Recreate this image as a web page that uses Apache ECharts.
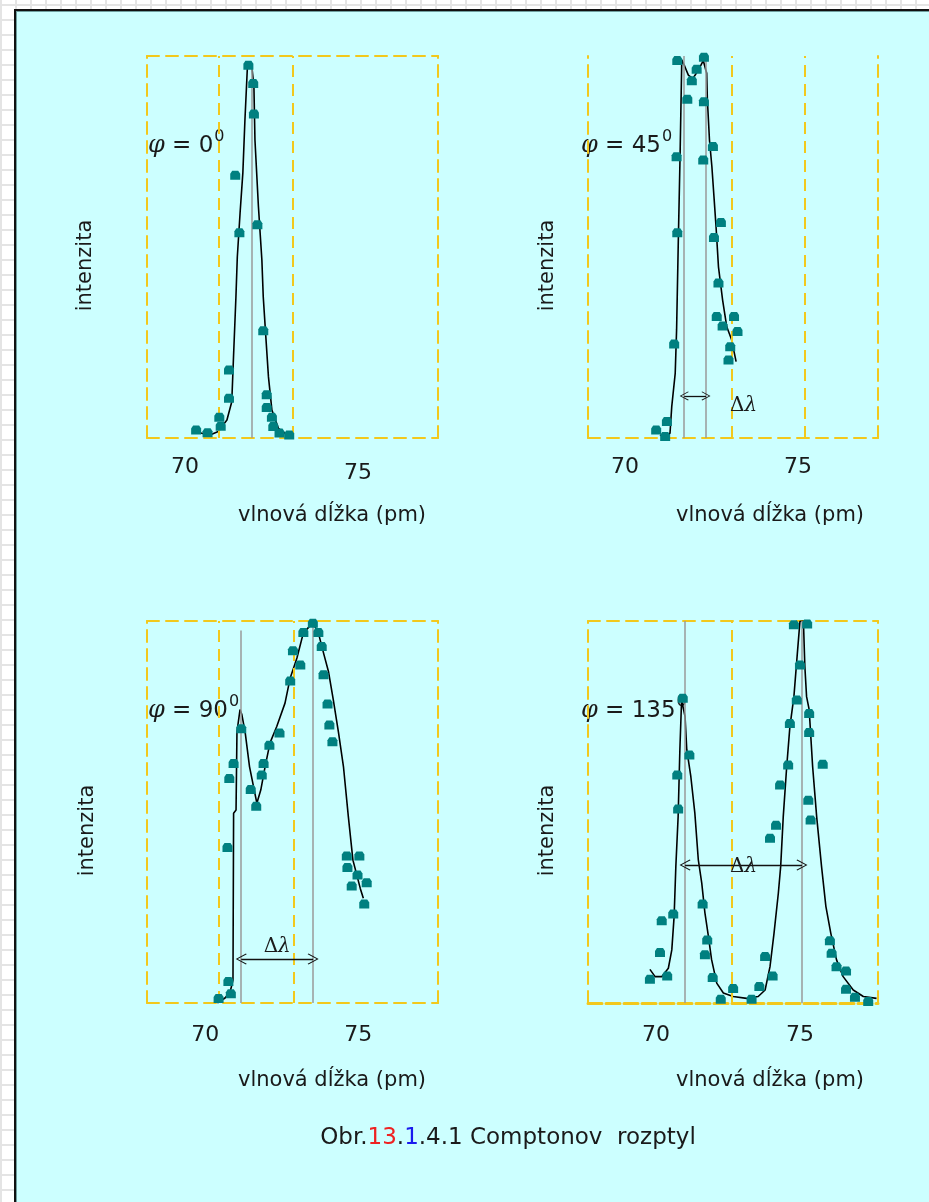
<!DOCTYPE html>
<html><head><meta charset="utf-8">
<script src="https://cdn.jsdelivr.net/npm/echarts@6/dist/echarts.min.js"></script>
<style>
html,body{margin:0;padding:0;width:929px;height:1202px;overflow:hidden;background-color:#fff;
background-image:linear-gradient(#e4e4e4 2px,transparent 2px),linear-gradient(90deg,#e4e4e4 2px,transparent 2px);
background-size:15px 15px;background-position:0 4px;}
#frame{position:absolute;left:14px;top:9px;width:960px;height:1240px;background:#ccffff;border-left:2px solid #111;border-top:2px solid #111;box-shadow:inset 1px 1px 0 #6f9f9f;}
#chart{position:absolute;left:0;top:0;width:929px;height:1202px;}
</style></head>
<body><div id="frame"></div><div id="chart"></div>
<script>
// ---------- data ----------
const tickLabels = [70, 75];
const angleLabels = ['0', '45', '90', '135'];

// φ = 0°  (wavelength pm, relative intensity)
const p0Points = [[70.32,0.021],[70.65,0.014],[70.99,0.054],[71.03,0.031],[71.27,0.178],[71.27,0.104],[71.45,0.688],[71.57,0.537],[71.83,0.976],[71.97,0.928],[71.99,0.848],[72.09,0.558],[72.26,0.281],[72.36,0.113],[72.36,0.080],[72.51,0.054],[72.55,0.030],[72.73,0.013],[73.01,0.008]];
const p0Curve = [[70.45,0.013],[70.72,0.008],[70.96,0.017],[71.21,0.047],[71.35,0.095],[71.40,0.212],[71.47,0.369],[71.51,0.474],[71.59,0.589],[71.67,0.694],[71.73,0.832],[71.80,0.968],[71.86,0.979],[71.93,0.972],[71.99,0.920],[72.02,0.780],[72.12,0.606],[72.22,0.466],[72.26,0.369],[72.34,0.257],[72.41,0.160],[72.51,0.073],[72.70,0.025],[72.94,0.008]];

// φ = 45°
const p45Points = [[70.90,0.021],[71.21,0.043],[71.16,0.004],[71.42,0.246],[71.51,0.537],[71.49,0.736],[71.51,0.988],[71.80,0.887],[71.93,0.935],[72.07,0.965],[72.28,0.997],[72.28,0.880],[72.26,0.728],[72.54,0.763],[72.57,0.525],[72.77,0.564],[72.70,0.406],[72.65,0.318],[72.82,0.293],[73.15,0.318],[73.25,0.279],[73.04,0.239],[72.99,0.204]];
const p45Curve = [[71.01,0.008],[71.21,0.0],[71.30,0.013],[71.35,0.082],[71.45,0.169],[71.49,0.283],[71.54,0.518],[71.59,0.736],[71.64,0.990],[71.73,0.972],[71.83,0.950],[71.96,0.941],[72.12,0.963],[72.26,0.988],[72.36,0.955],[72.38,0.885],[72.44,0.780],[72.51,0.710],[72.57,0.632],[72.63,0.553],[72.70,0.448],[72.82,0.361],[72.94,0.291],[73.08,0.257],[73.21,0.200]];

// φ = 90°
const p90Points = [[70.44,0.012],[70.76,0.056],[70.84,0.024],[70.73,0.407],[70.79,0.588],[70.93,0.627],[71.18,0.718],[71.49,0.559],[71.67,0.515],[71.85,0.597],[71.91,0.627],[72.10,0.675],[72.43,0.707],[72.78,0.843],[72.87,0.922],[73.11,0.885],[73.21,0.970],[73.52,0.994],[73.70,0.970],[73.81,0.933],[73.87,0.859],[74.00,0.783],[74.06,0.728],[74.16,0.684],[74.63,0.385],[75.04,0.385],[74.65,0.355],[74.98,0.335],[75.28,0.315],[74.79,0.306],[75.20,0.259]];
const p90Curve = [[70.40,0.0],[70.65,0.013],[70.82,0.030],[70.91,0.060],[70.93,0.497],[71.01,0.505],[71.04,0.710],[71.14,0.768],[71.20,0.755],[71.31,0.707],[71.45,0.619],[71.58,0.567],[71.69,0.523],[71.82,0.558],[71.96,0.619],[72.12,0.681],[72.34,0.724],[72.61,0.785],[72.78,0.851],[73.00,0.903],[73.21,0.969],[73.52,0.995],[73.70,0.969],[73.87,0.916],[74.03,0.868],[74.19,0.793],[74.36,0.707],[74.52,0.619],[74.68,0.488],[74.83,0.374],[75.07,0.300],[75.17,0.274]];

// φ = 135°
const p135Points = [[69.79,0.062],[70.39,0.071],[70.14,0.132],[70.20,0.215],[70.60,0.233],[70.77,0.508],[70.74,0.597],[70.93,0.798],[71.16,0.649],[71.62,0.259],[71.78,0.165],[71.70,0.126],[71.97,0.067],[72.25,0.010],[72.68,0.038],[73.32,0.010],[73.59,0.043],[73.79,0.122],[74.05,0.071],[73.96,0.431],[74.17,0.465],[74.31,0.571],[74.59,0.623],[74.65,0.732],[74.89,0.793],[75.00,0.885],[74.79,0.990],[75.25,0.992],[75.32,0.758],[75.32,0.708],[75.79,0.625],[75.29,0.531],[75.37,0.479],[76.04,0.163],[76.10,0.130],[76.27,0.095],[76.60,0.084],[76.60,0.036],[76.91,0.015],[77.37,0.004]];
const p135Curve = [[69.79,0.088],[69.97,0.069],[70.20,0.069],[70.43,0.091],[70.55,0.139],[70.63,0.226],[70.69,0.357],[70.77,0.488],[70.83,0.663],[70.89,0.793],[70.95,0.798],[71.01,0.750],[71.07,0.663],[71.21,0.593],[71.35,0.497],[71.47,0.375],[71.59,0.314],[71.70,0.236],[71.82,0.175],[71.93,0.114],[72.11,0.052],[72.34,0.026],[72.68,0.017],[73.15,0.012],[73.55,0.017],[73.79,0.034],[73.96,0.095],[74.10,0.183],[74.25,0.288],[74.33,0.357],[74.42,0.488],[74.54,0.619],[74.65,0.723],[74.79,0.802],[74.91,0.916],[75.00,0.999],[75.12,1.0],[75.17,0.881],[75.23,0.802],[75.32,0.768],[75.44,0.619],[75.58,0.488],[75.75,0.357],[75.90,0.253],[76.07,0.183],[76.27,0.113],[76.50,0.069],[76.85,0.034],[77.20,0.017],[77.66,0.012]];

// axis ranges (pm)
const xRanges = [[68.90,77.31],[68.93,77.31],[68.10,77.61],[67.64,77.71]];
// dashed vertical guide lines (pm)
const guideLines = [[70.98,73.12],[73.09,75.20],[70.46,72.88],[72.64]];
// grey reference lines: [pm, top intensity]
const refLines = [[[71.93,0.97]],[[71.71,1.0],[72.34,1.0]],[[71.18,0.975],[73.53,1.0]],[[71.01,1.0],[75.07,1.0]]];
// Δλ arrows: [from pm, to pm, intensity]
const shiftArrows = [null,[71.71,72.34,0.110],[71.18,73.53,0.115],[71.01,75.07,0.361]];

const pointSets = [p0Points,p45Points,p90Points,p135Points];
const curveSets = [p0Curve,p45Curve,p90Curve,p135Curve];

// ---------- layout / style ----------
const YEL = '#f2c81c';
const SANS = 'DejaVu Sans';
const SERIF = 'DejaVu Serif';
const TXT = '#1a1a1a';
const boxes = [
  {left:147, top:56, width:291, height:382},
  {left:588, top:56, width:290, height:382},
  {left:147, top:621, width:291, height:382},
  {left:588, top:621, width:290, height:382}
];
const showTop = [true,false,true,true];
const xNamePad = [79,74,79,74];
const yNameGap = [51,30,49,30];
const labelMargin = [18,18,21,21];
const dash = {color:YEL, width:2, type:[12,7]};
const dashBottom4 = {color:YEL, width:3, type:[14,4]};
const dot = 'path://M2,0 L8,0 L10,3 L10,9 L0,9 L0,3 Z';
const chevron = 'path://M0,0 L10,13 L8.6,14 L0,2.5 L-8.6,14 L-10,13 Z';

const xAxis = [], yAxis = [], series = [], graphic = [];
boxes.forEach((b,i) => {
  xAxis.push({
    type:'value', gridIndex:i, position:'bottom', min:xRanges[i][0], max:xRanges[i][1],
    axisLine:{show:true, onZero:false, lineStyle: i===3 ? dashBottom4 : dash},
    axisTick:{show:false}, splitLine:{show:false},
    axisLabel:{customValues:tickLabels, margin:labelMargin[i], fontFamily:SANS, fontSize:22, color:TXT,
      formatter: v => (i===0 && v===75) ? '{lo|75}' : String(v),
      rich:{lo:{fontFamily:SANS, fontSize:22, color:TXT, padding:[6,0,0,0]}}},
    name:'vlnová dĺžka (pm)', nameLocation:'middle', nameGap:67,
    nameTextStyle:{fontFamily:SANS, fontSize:21, color:TXT, padding:[0,0,0,xNamePad[i]]}
  });
  xAxis.push({
    type:'value', gridIndex:i, position:'top', min:xRanges[i][0], max:xRanges[i][1],
    axisLine:{show:showTop[i], onZero:false, lineStyle:dash},
    axisTick:{show:false}, axisLabel:{show:false}, splitLine:{show:false}
  });
  yAxis.push({
    type:'value', gridIndex:i, position:'left', min:0, max:1,
    axisLine:{show:true, onZero:false, lineStyle:dash},
    axisTick:{show:false}, axisLabel:{show:false}, splitLine:{show:false},
    name:'intenzita', nameLocation:'middle', nameGap:yNameGap[i],
    nameTextStyle:{fontFamily:SANS, fontSize:21, color:TXT, padding:[0,37,0,0]}
  });
  yAxis.push({
    type:'value', gridIndex:i, position:'right', min:0, max:1,
    axisLine:{show:true, onZero:false, lineStyle:dash},
    axisTick:{show:false}, axisLabel:{show:false}, splitLine:{show:false}
  });
  const xi = 2*i, yi = 2*i;
  series.push({
    type:'line', xAxisIndex:xi, yAxisIndex:yi, data:[], silent:true, z:1,
    markLine:{silent:true, symbol:'none', label:{show:false}, lineStyle:dash,
      data: guideLines[i].map(g => [{coord:[g,0]},{coord:[g,1]}])}
  });
  series.push({
    type:'line', xAxisIndex:xi, yAxisIndex:yi, data:[], silent:true, z:2,
    markLine:{silent:true, symbol:'none', label:{show:false}, lineStyle:{color:'#9a9a9a', width:1.5, type:'solid'},
      data: refLines[i].map(r => [{coord:[r[0],0]},{coord:[r[0],r[1]]}])}
  });
  if (shiftArrows[i]) {
    const a = shiftArrows[i];
    const pos = i===1 ? {position:'end', distance:24, offset:[0,10]} : (i===2 ? {position:'insideMiddleTop', distance:2} : {position:'middle', distance:-12});
    series.push({
      type:'line', xAxisIndex:xi, yAxisIndex:yi, data:[], silent:true, z:3,
      markLine:{silent:true, symbol:[chevron,chevron], symbolSize:i===1?9:11,
        lineStyle:{color:'#111', width:1.3, type:'solid'},
        label:Object.assign({show:true, formatter:'{d|Δ}{l|λ}',
          rich:{d:{fontFamily:SERIF, fontSize:20, color:TXT}, l:{fontFamily:SERIF, fontStyle:'italic', fontSize:20, color:TXT}}}, pos),
        data:[[{coord:[a[0],a[2]]},{coord:[a[1],a[2]]}]]}
    });
  }
  series.push({
    type:'line', xAxisIndex:xi, yAxisIndex:yi, data:curveSets[i], symbol:'none', smooth:false, z:4,
    lineStyle:{color:'#000', width:1.6}
  });
  series.push({
    type:'scatter', xAxisIndex:xi, yAxisIndex:yi, data:pointSets[i], symbol:dot, symbolSize:[10,9], z:5,
    itemStyle:{color:'#008080', opacity:1}
  });
});

const phiPos = [[148,124],[581,124],[148,689],[581,689]];
angleLabels.forEach((a,i) => {
  graphic.push({type:'text', left:phiPos[i][0], top:phiPos[i][1], silent:true,
    style:{text:'{p|φ}{n| = '+a+'}{s|0}',
      rich:{p:{fontFamily:SERIF, fontStyle:'italic', fontSize:24, fill:TXT, lineHeight:34, verticalAlign:'bottom'},
            n:{fontFamily:SANS, fontSize:23, fill:TXT, lineHeight:34, verticalAlign:'bottom'},
            s:{fontFamily:SANS, fontSize:16, fill:TXT, verticalAlign:'top', lineHeight:16, padding:[5,0,0,1]}}}});
});
graphic.push({type:'text', x:508, y:1138, silent:true,
  style:{text:'{k|Obr.}{r|13}{k|.}{b|1}{k|.4.1 Comptonov  rozptyl}', align:'center', verticalAlign:'middle',
    rich:{k:{fontFamily:SANS, fontSize:23, fill:TXT}, r:{fontFamily:SANS, fontSize:23, fill:'#ee2222'}, b:{fontFamily:SANS, fontSize:23, fill:'#1a1aee'}}}});

const chart = echarts.init(document.getElementById('chart'), null, {renderer:'canvas'});
chart.setOption({
  animation:false,
  backgroundColor:'transparent',
  grid: boxes.map(b => Object.assign({containLabel:false}, b)),
  xAxis, yAxis, series, graphic
});
</script></body></html>
